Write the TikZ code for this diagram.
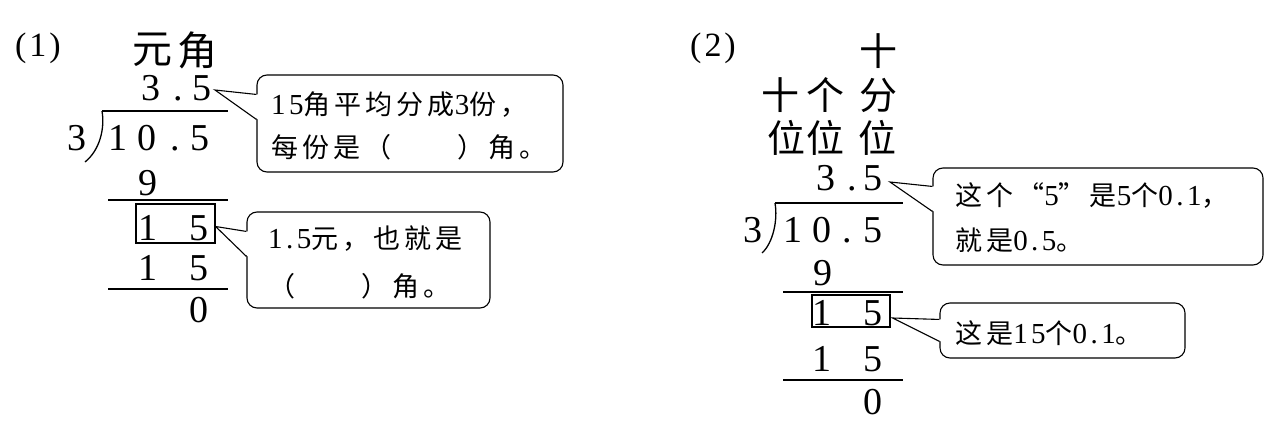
\documentclass[tikz,border=0pt]{standalone}
\usepackage{fontspec}
\setmainfont{Liberation Serif}
\newfontfamily\cjk{Noto Sans CJK SC}
\newfontfamily\cjks[LetterSpace=15]{Noto Sans CJK SC}
\newfontfamily\nmf[LetterSpace=12]{Liberation Serif}
\newcommand\zh[1]{{\cjks #1}}
\newcommand\nm[1]{{\nmf\fontsize{29}{29}\selectfont #1}}
\usetikzlibrary{calc}
\begin{document}
\begin{tikzpicture}[x=1pt,y=-1pt,
  dg/.style={font=\fontsize{38}{38}\selectfont, inner sep=0pt, anchor=base},
  hz/.style={font=\cjk\fontsize{40}{40}\selectfont, inner sep=0pt},
  hzb/.style={font=\cjk\fontsize{38}{38}\selectfont, inner sep=0pt},
  rule/.style={line width=1.3pt},
  numbox/.style={draw, line width=1.2pt, inner sep=0pt},
  cbox/.style={draw, line width=1.1pt, rounded corners=10pt, inner sep=0pt},
  ctext/.style={font=\fontsize{27}{27}\selectfont, inner sep=0pt, anchor=base west},
  ptr/.style={line width=1.1pt, line join=miter},
  tag/.style={font=\fontsize{34}{34}\selectfont, inner sep=0pt}
]
\useasboundingbox (0,0) rectangle (1285,431);

% ---------------- Part (1) ----------------
\node[tag] (tag1) at (38,48) {(\hspace{3pt}1\hspace{3pt})};
\node[hz] (yuan) at (152,50) {元};
\node[hz] (jiao) at (197,50) {角};

\node[dg] (q3) at (151,100) {3};
\node[dg] (qd) at (178,100) {.};
\node[dg] (q5) at (202,100) {5};

\draw[rule] (102,111) -- (228,111);
\draw[rule] (102,111) .. controls (105,128) and (100,150) .. (85,162);
\node[dg] (dv) at (77,150) {3};
\node[dg] (a1) at (118,150) {1};
\node[dg] (a0) at (147,150) {0};
\node[dg] (ad) at (175,150) {.};
\node[dg] (a5) at (200,150) {5};

\node[dg] (n9) at (148,195) {9};
\draw[rule] (108,200) -- (228,200);
\node[numbox, minimum width=79pt, minimum height=39pt] (b1) at (175.5,223.5) {};
\node[dg] (r1) at (148,240) {1};
\node[dg] (r5) at (199,240) {5};
\node[dg] (s1) at (148,280) {1};
\node[dg] (s5) at (199,280) {5};
\draw[rule] (108,289) -- (228,289);
\node[dg] (z0) at (199,322) {0};

% callout 1
\node[cbox, minimum width=306pt, minimum height=97pt] (c1) at (410,123.5) {};
\node[ctext] (c1a) at (271,114) {\nm{15}\zh{角平均分成}\nm{3}\zh{份，}};
\node[ctext] (c1b) at (271,157) {\zh{每份是（　　）角。}};
\coordinate (p1) at (215,90);
\fill[white] (p1) -- ($(c1.north west)+(1.5,20)$) -- ($(c1.north west)+(1.5,45)$) -- cycle;
\draw[ptr] ($(c1.north west)+(0,20)$) -- (p1) -- ($(c1.north west)+(0,45)$);

% callout 2
\node[cbox, minimum width=243pt, minimum height=96pt] (c2) at (368.5,260) {};
\node[ctext] (c2a) at (268,248) {\nm{1.5}\zh{元，也就是}};
\node[ctext] (c2b) at (268,296) {\zh{（　　）角。}};
\coordinate (p2) at ($(b1.east)+(0,3)$);
\fill[white] (p2) -- ($(c2.north west)+(1.5,20)$) -- ($(c2.north west)+(1.5,45)$) -- cycle;
\draw[ptr] ($(c2.north west)+(0,20)$) -- (p2) -- ($(c2.north west)+(0,45)$);

% ---------------- Part (2) ----------------
\node[tag] (tag2) at (713,48) {(\hspace{3pt}2\hspace{3pt})};
\node[hzb] (h0) at (878,51) {十};
\node[hzb] (h1) at (780,95) {十};
\node[hzb] (h2) at (825,95) {个};
\node[hzb] (h3) at (878,95) {分};
\node[hzb] (w1) at (786,138) {位};
\node[hzb] (w2) at (825,138) {位};
\node[hzb] (w3) at (877,138) {位};

\node[dg] (Q3) at (826,190) {3};
\node[dg] (Qd) at (852,190) {.};
\node[dg] (Q5) at (873,190) {5};

\draw[rule] (775,203) -- (903,203);
\draw[rule] (775,203) .. controls (778,220) and (773,243) .. (762,253);
\node[dg] (DV) at (753,242) {3};
\node[dg] (A1) at (793,242) {1};
\node[dg] (A0) at (822,242) {0};
\node[dg] (Ad) at (847,242) {.};
\node[dg] (A5) at (873,242) {5};

\node[dg] (N9) at (823,285) {9};
\draw[rule] (783,292) -- (903,292);
\node[numbox, minimum width=78pt, minimum height=32pt] (b2) at (851,311) {};
\node[dg] (R1) at (822,325) {1};
\node[dg] (R5) at (873,325) {5};
\node[dg] (S1) at (822,371) {1};
\node[dg] (S5) at (873,371) {5};
\draw[rule] (783,380) -- (903,380);
\node[dg] (Z0) at (873,414) {0};

% callout 3
\node[cbox, minimum width=330pt, minimum height=97pt] (c3) at (1098,216.5) {};
\node[ctext] (c3a) at (955,205) {\zh{这个“}\nm{5}\zh{”是}\nm{5}\zh{个}\nm{0.1}\zh{，}};
\node[ctext] (c3b) at (955,250) {\zh{就是}\nm{0.5}\zh{。}};
\coordinate (p3) at (890,182);
\fill[white] (p3) -- ($(c3.north west)+(1.5,19)$) -- ($(c3.north west)+(1.5,44)$) -- cycle;
\draw[ptr] ($(c3.north west)+(0,19)$) -- (p3) -- ($(c3.north west)+(0,44)$);

% callout 4
\node[cbox, minimum width=245pt, minimum height=55pt] (c4) at (1062.5,330.5) {};
\node[ctext] (c4a) at (955,343) {\zh{这是}\nm{15}\zh{个}\nm{0.1}\zh{。}};
\coordinate (p4) at ($(b2.east)+(2,7)$);
\fill[white] (p4) -- ($(c4.north west)+(1.5,17)$) -- ($(c4.north west)+(1.5,39)$) -- cycle;
\draw[ptr] ($(c4.north west)+(0,17)$) -- (p4) -- ($(c4.north west)+(0,39)$);
\end{tikzpicture}
\end{document}
